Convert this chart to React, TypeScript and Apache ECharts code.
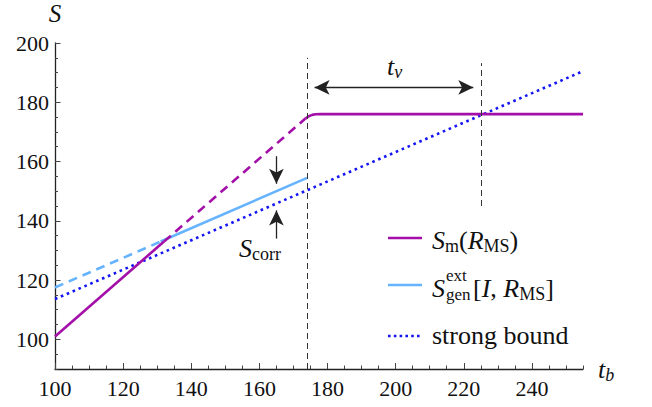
import React, { useEffect, useRef } from "react";
import * as echarts from "echarts";

// ---- data ----
const xTicks = [100, 120, 140, 160, 180, 200, 220, 240];
const yTicks = [100, 120, 140, 160, 180, 200];

// S_m(R_MS): solid low part, dashed middle part, solid plateau part
const smSolidLow = [[100, 101], [132, 133]];
const smDashed = [[132, 133], [173.5, 174.5]];
const smPlateau = [
  [173.5, 174.5], [174.5, 175.3], [175.5, 175.75], [176.5, 175.95], [178, 176], [255, 176],
];
// S_gen^ext[I, R_MS]
const sgenDashed = [[100, 117.5], [131, 133]];
const sgenSolid = [[131, 133], [174, 154.5]];
// strong bound
const strongBound = [[100, 113.6], [255, 190.5]];

// annotations
const vLine1 = [[174, 90], [174, 195]];
const vLine2 = [[225, 145], [225, 193.2]];
const tvArrow = [[176.2, 185], [222.8, 185]];
const corrDown = [[165, 161.8], [165, 152.5]];
const corrUp = [[165, 134], [165, 143.5]];
const tvLabelAt = [199.7, 192.1];
const corrLabelAt = [160.2, 130.8];

const FONT = "Liberation Serif";
const MAG = "#a30fa8";
const LBLUE = "#66b3ff";
const BLUE = "#1414f5";
const INK = "#111";

function buildOption(): any {
  const lineSeries = (data: number[][], color: string, type: any, width = 2.6, z = 2) => ({
    type: "line",
    data,
    symbol: "none",
    silent: true,
    z,
    lineStyle: { color, width, type, cap: "butt" },
    emphasis: { disabled: true },
  });

  const lblRich = {
    i: { fontFamily: FONT, fontStyle: "italic", fontSize: 26, lineHeight: 30, color: INK },
    r: { fontFamily: FONT, fontSize: 26, lineHeight: 30, color: INK },
    si: { fontFamily: FONT, fontStyle: "italic", fontSize: 18, lineHeight: 16, verticalAlign: "bottom", color: INK },
    s: { fontFamily: FONT, fontSize: 18, lineHeight: 16, verticalAlign: "bottom", color: INK },
  };

  const gRich = {
    i: { fontFamily: FONT, fontStyle: "italic", fontSize: 26, lineHeight: 30, fill: INK },
    r: { fontFamily: FONT, fontSize: 26, lineHeight: 30, fill: INK },
    s: { fontFamily: FONT, fontSize: 18, lineHeight: 16, verticalAlign: "bottom", fill: INK },
  };

  return {
    animation: false,
    textStyle: { fontFamily: FONT },
    grid: { left: 55, right: 69, top: 43, bottom: 38, containLabel: false },
    xAxis: [
      {
        type: "value",
        min: 100,
        max: 255,
        position: "bottom",
        splitLine: { show: false },
        axisLine: { onZero: false, lineStyle: { color: "#222", width: 1.3 } },
        axisTick: { inside: true, length: 6, customValues: xTicks, lineStyle: { color: "#444", width: 1 } },
        axisLabel: { customValues: xTicks, fontFamily: FONT, fontSize: 22, color: INK, margin: 8 },
        name: "{i|t}{si|b}",
        nameLocation: "end",
        nameGap: 15,
        nameTextStyle: { align: "left", verticalAlign: "middle", rich: lblRich },
      },
      {
        type: "value",
        min: 100,
        max: 255,
        interval: 5,
        position: "bottom",
        splitLine: { show: false },
        axisLine: { show: false, onZero: false },
        axisTick: { inside: true, length: 3.5, lineStyle: { color: "#444", width: 1 } },
        axisLabel: { show: false },
      },
    ],
    yAxis: [
      {
        type: "value",
        min: 90,
        max: 200,
        position: "left",
        splitLine: { show: false },
        axisLine: { show: true, onZero: false, lineStyle: { color: "#222", width: 1.3 } },
        axisTick: { show: true, inside: true, length: 5.5, customValues: yTicks, lineStyle: { color: "#444", width: 1 } },
        axisLabel: { customValues: yTicks, fontFamily: FONT, fontSize: 22, color: INK, margin: 6 },
        name: "S",
        nameLocation: "end",
        nameGap: 30,
        nameTextStyle: {
          fontFamily: FONT,
          fontStyle: "italic",
          fontSize: 25,
          color: INK,
          align: "center",
          verticalAlign: "middle",
        },
      },
      {
        type: "value",
        min: 90,
        max: 200,
        interval: 5,
        position: "left",
        splitLine: { show: false },
        axisLine: { show: false, onZero: false },
        axisTick: { show: true, inside: true, length: 3, lineStyle: { color: "#444", width: 1 } },
        axisLabel: { show: false },
      },
    ],
    series: [
      lineSeries(strongBound, BLUE, [2.6, 3.8], 2.6, 2),
      lineSeries(sgenDashed, LBLUE, [9, 6], 2.6, 3),
      lineSeries(sgenSolid, LBLUE, "solid", 2.6, 3),
      lineSeries(smSolidLow, MAG, "solid", 2.6, 4),
      lineSeries(smDashed, MAG, [9, 6], 2.6, 4),
      lineSeries(smPlateau, MAG, "solid", 2.6, 4),
      {
        type: "line",
        data: [],
        silent: true,
        z: 5,
        markLine: {
          silent: true,
          symbol: ["none", "none"],
          label: { show: false },
          lineStyle: { color: "#333", width: 1, type: [6, 4] },
          emphasis: { disabled: true },
          data: [
            [{ coord: vLine1[0] }, { coord: vLine1[1] }],
            [{ coord: vLine2[0] }, { coord: vLine2[1] }],
          ],
        },
      },
      {
        type: "line",
        data: [],
        silent: true,
        z: 6,
        markLine: {
          silent: true,
          symbol: ["arrow", "arrow"],
          symbolSize: [11, 15],
          label: { show: false },
          lineStyle: { color: "#222", width: 1.3, type: "solid" },
          emphasis: { disabled: true },
          data: [[{ coord: tvArrow[0] }, { coord: tvArrow[1] }]],
        },
      },
      {
        type: "line",
        data: [],
        silent: true,
        z: 6,
        markLine: {
          silent: true,
          symbol: ["none", "arrow"],
          symbolSize: [11, 15],
          label: { show: false },
          lineStyle: { color: "#222", width: 1.3, type: "solid" },
          emphasis: { disabled: true },
          data: [
            [{ coord: corrDown[0] }, { coord: corrDown[1] }],
            [{ coord: corrUp[0] }, { coord: corrUp[1] }],
          ],
        },
        markPoint: {
          silent: true,
          symbol: "rect",
          symbolSize: 1,
          itemStyle: { color: "rgba(0,0,0,0)" },
          label: { show: true, position: "inside", rich: lblRich },
          emphasis: { disabled: true },
          data: [
            { coord: tvLabelAt, label: { formatter: "{i|t}{si|v}" } },
            { coord: corrLabelAt, label: { formatter: "{i|S}{s|corr}" } },
          ],
        },
      },
    ],
    graphic: [
      // legend entry 1
      { type: "line", silent: true, shape: { x1: 388, y1: 238, x2: 422, y2: 238 }, style: { stroke: MAG, lineWidth: 2.6 } },
      {
        type: "text",
        silent: true,
        x: 432,
        y: 240,
        style: { text: "{i|S}{s|m}{r|(}{i|R}{s|MS}{r|)}", rich: gRich, verticalAlign: "middle", align: "left" },
      },
      // legend entry 2
      { type: "line", silent: true, shape: { x1: 388, y1: 285, x2: 422, y2: 285 }, style: { stroke: LBLUE, lineWidth: 2.6 } },
      {
        type: "text",
        silent: true,
        x: 432,
        y: 288,
        style: { text: "S", fontFamily: FONT, fontStyle: "italic", fontSize: 26, fill: INK, verticalAlign: "middle", align: "left" },
      },
      {
        type: "text",
        silent: true,
        x: 446,
        y: 275,
        style: { text: "ext", fontFamily: FONT, fontSize: 17, fill: INK, verticalAlign: "middle", align: "left" },
      },
      {
        type: "text",
        silent: true,
        x: 446,
        y: 294,
        style: { text: "gen", fontFamily: FONT, fontSize: 17, fill: INK, verticalAlign: "middle", align: "left" },
      },
      {
        type: "text",
        silent: true,
        x: 473,
        y: 288,
        style: { text: "{r|[}{i|I}{r|, }{i|R}{s|MS}{r|]}", rich: gRich, verticalAlign: "middle", align: "left" },
      },
      // legend entry 3
      { type: "line", silent: true, shape: { x1: 388, y1: 336, x2: 422, y2: 336 }, style: { stroke: BLUE, lineWidth: 2.6, lineDash: [2.6, 3.2] } },
      {
        type: "text",
        silent: true,
        x: 432,
        y: 335,
        style: { text: "strong bound", fontFamily: FONT, fontSize: 26, fill: INK, verticalAlign: "middle", align: "left" },
      },
    ],
  };
}

export default function App() {
  const ref = useRef<HTMLDivElement>(null);

  useEffect(() => {
    document.body.style.margin = "0";
    const chart = echarts.init(ref.current!, null, { renderer: "svg" });
    chart.setOption(buildOption());
    return () => chart.dispose();
  }, []);

  return <div ref={ref} style={{ width: 652, height: 407 }} />;
}
